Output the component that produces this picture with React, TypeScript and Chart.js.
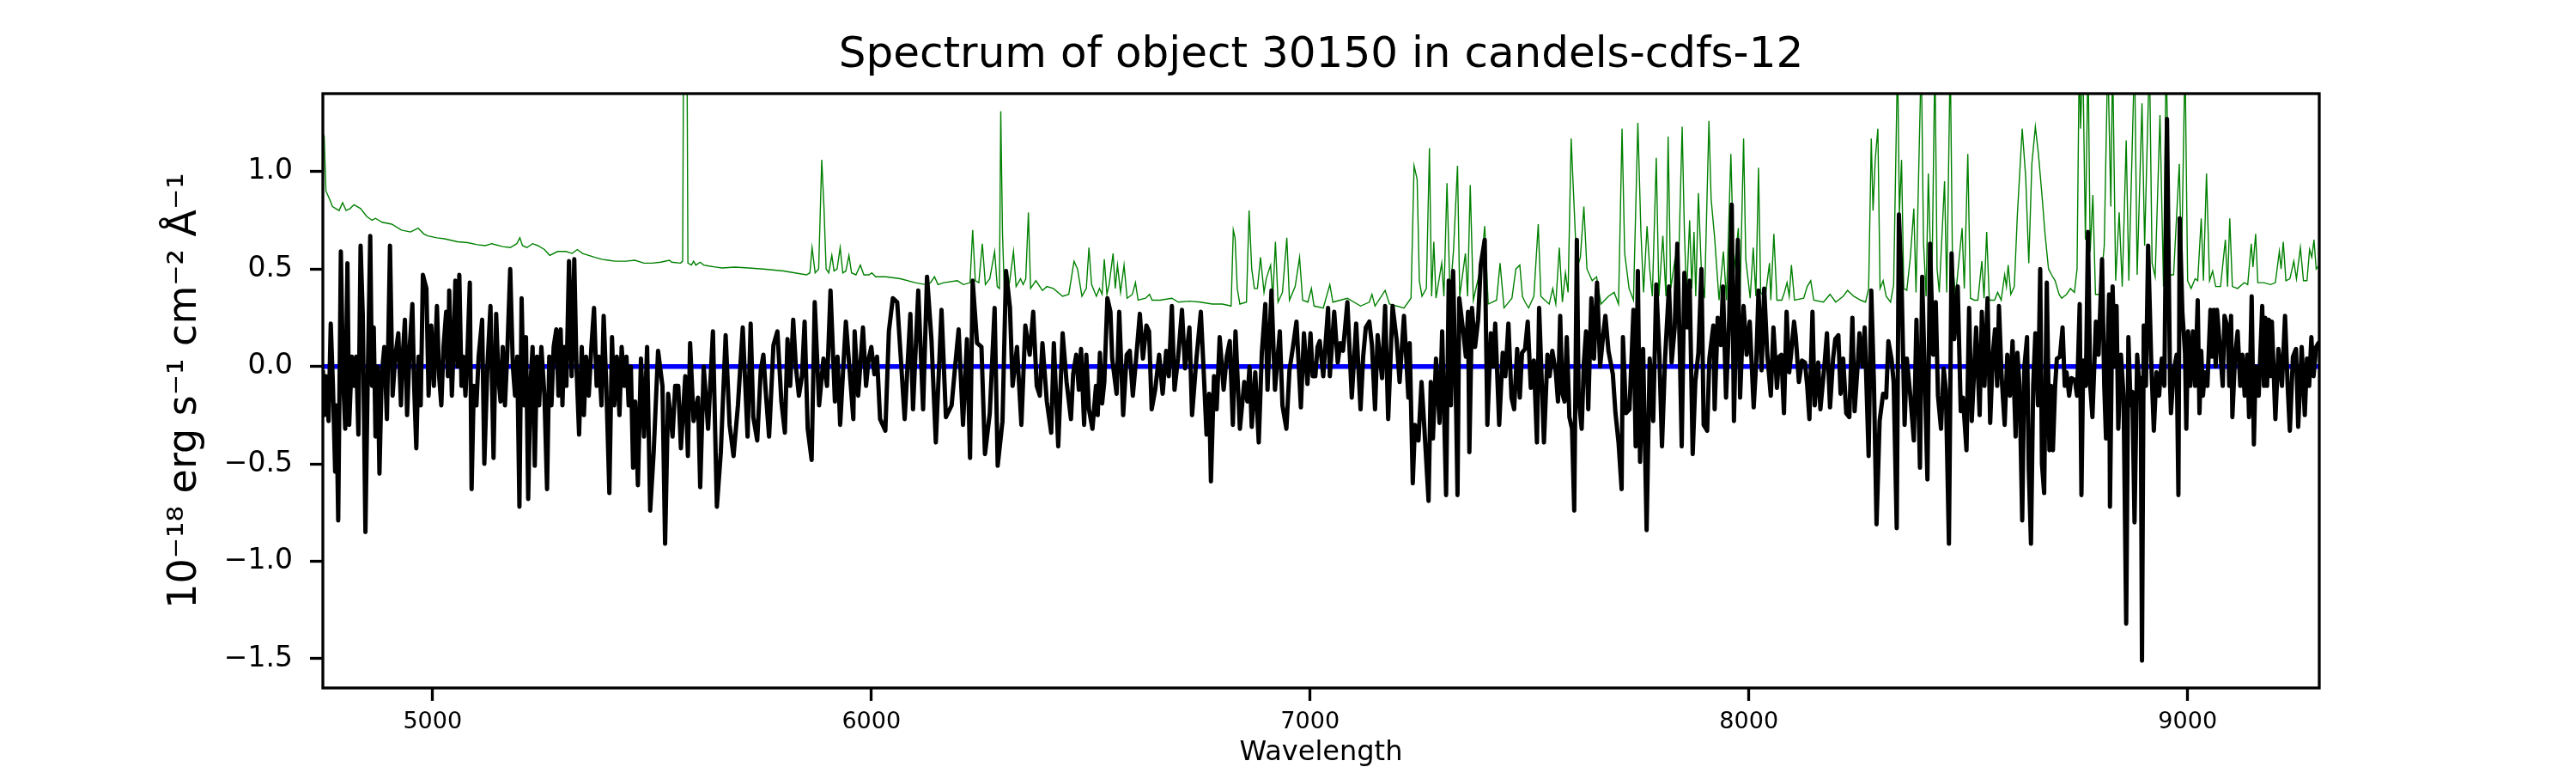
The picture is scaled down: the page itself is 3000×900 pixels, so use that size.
import { useEffect, useRef } from 'react';
import { Chart, registerables } from 'chart.js';

Chart.register(...registerables);

const TITLE = 'Spectrum of object 30150 in candels-cdfs-12';
const X_LABEL = 'Wavelength';
const Y_LABEL = '10⁻¹⁸ erg s⁻¹ cm⁻² Å⁻¹';

const xTicks = [5000, 6000, 7000, 8000, 9000];
const yTicks = [-1.5, -1.0, -0.5, 0.0, 0.5, 1.0];

// object flux as [wavelength, value]
const fluxBlue: [number, number][] = [
  [4750, -0.02], [4753, -0.25], [4757, -0.05], [4763, -0.28], [4768, 0.22], [4773, -0.1],
  [4778, -0.54], [4781, -0.2], [4785, -0.79], [4791, 0.59], [4796, -0.05], [4801, -0.32],
  [4806, 0.53], [4810, -0.3], [4816, 0.05], [4821, -0.1], [4826, 0.05], [4831, -0.35],
  [4836, 0.62], [4841, 0.26], [4847, -0.85], [4852, -0.1], [4858, 0.67], [4862, -0.1],
  [4866, 0.2], [4870, -0.36], [4875, 0.0], [4879, -0.55], [4884, -0.05], [4890, 0.1],
  [4896, -0.27], [4903, 0.62], [4909, -0.15], [4915, 0.05], [4922, 0.17], [4928, -0.2],
  [4932, 0.05], [4937, 0.24], [4942, -0.25], [4948, 0.1], [4954, 0.32], [4958, -0.1],
  [4963, -0.42], [4968, 0.05], [4973, -0.2], [4978, 0.47], [4986, 0.4], [4991, -0.15],
  [4997, 0.21], [5003, -0.1], [5010, 0.31], [5015, -0.05], [5020, -0.2], [5025, 0.1],
  [5031, 0.28], [5035, -0.05], [5038, 0.39], [5044, -0.15], [5048, 0.1], [5052, 0.44],
  [5057, 0.0], [5061, 0.47], [5066, -0.1], [5070, 0.05], [5075, -0.15], [5080, 0.1],
  [5085, 0.43], [5089, -0.63], [5094, -0.1], [5100, -0.2], [5105, 0.05], [5113, 0.24],
  [5118, -0.5], [5125, 0.0], [5132, 0.31], [5139, -0.47], [5145, 0.27], [5150, -0.05],
  [5155, -0.18], [5160, 0.1], [5165, -0.2], [5170, 0.05], [5177, 0.5], [5183, 0.0],
  [5188, -0.15], [5193, 0.05], [5198, -0.72], [5203, 0.35], [5208, -0.2], [5213, 0.15],
  [5218, -0.68], [5223, -0.1], [5228, 0.1], [5233, -0.51], [5238, 0.05], [5243, -0.2],
  [5248, 0.1], [5255, -0.15], [5261, -0.63], [5266, 0.05], [5271, -0.2], [5276, 0.1],
  [5282, 0.19], [5287, -0.15], [5292, 0.19], [5296, -0.2], [5300, 0.1], [5305, -0.1],
  [5311, 0.54], [5317, -0.05], [5323, 0.55], [5328, 0.0], [5334, -0.35], [5340, 0.1],
  [5345, -0.25], [5350, 0.05], [5356, -0.15], [5362, 0.1], [5368, 0.3], [5374, -0.1],
  [5379, 0.05], [5385, -0.2], [5390, 0.26], [5396, -0.1], [5403, -0.65], [5409, 0.15],
  [5414, -0.2], [5420, 0.05], [5426, -0.25], [5431, 0.1], [5437, -0.1], [5442, 0.05],
  [5447, -0.2], [5452, 0.0], [5457, -0.52], [5462, -0.18],
];
const fluxGreen: [number, number][] = [
  [5468, -0.61], [5475, 0.04], [5482, -0.36], [5489, 0.1], [5496, -0.74], [5504, -0.44],
  [5514, 0.08], [5524, -0.1], [5530, -0.91], [5537, -0.14], [5547, -0.36], [5553, -0.1],
  [5560, -0.1], [5566, -0.42], [5576, -0.05], [5582, -0.46], [5587, 0.12], [5595, -0.28],
  [5605, -0.16], [5610, -0.62], [5618, 0.0], [5628, -0.32], [5639, 0.18], [5648, -0.72],
  [5657, -0.44], [5668, 0.16], [5677, -0.3], [5686, -0.46], [5696, -0.2], [5707, 0.2],
  [5718, -0.36], [5725, 0.22], [5731, -0.26], [5740, -0.38], [5748, -0.02], [5754, 0.06],
  [5760, -0.15], [5767, -0.36], [5777, 0.11], [5786, 0.18], [5795, -0.18], [5803, -0.34],
  [5809, 0.14], [5815, -0.1], [5822, 0.24], [5828, 0.0], [5835, -0.15], [5842, -0.05],
  [5848, 0.23], [5855, -0.32], [5864, -0.48], [5871, 0.33], [5881, -0.2], [5891, 0.04],
  [5899, -0.1], [5907, 0.39], [5917, -0.18], [5923, 0.05], [5929, -0.3], [5935, -0.05],
  [5942, 0.23], [5959, -0.27], [5962, 0.18], [5970, -0.15], [5981, 0.2], [5988, -0.1],
  [5994, 0.04], [6000, 0.1], [6007, -0.04], [6013, 0.05], [6020, -0.27], [6032, -0.33],
  [6040, 0.18], [6049, 0.35], [6059, 0.33], [6067, 0.05], [6076, -0.27], [6089, 0.27],
  [6095, -0.22], [6107, 0.39], [6118, -0.22], [6127, 0.46], [6137, 0.14], [6147, -0.39],
  [6160, 0.29], [6170, -0.26], [6183, -0.2], [6191, 0.0], [6199, 0.19], [6209, -0.3],
  [6218, 0.14], [6225, -0.47], [6231, 0.44], [6241, 0.12], [6251, 0.1], [6259, -0.45],
  [6270, -0.24], [6281, 0.3], [6288, -0.51], [6299, -0.28], [6307, 0.49], [6316, 0.3],
  [6322, -0.1], [6332, 0.1], [6342, -0.3], [6351, 0.21], [6361, 0.06], [6369, 0.28],
  [6377, -0.1], [6384, -0.15], [6390, 0.12], [6400, -0.18], [6410, -0.34], [6416, 0.12],
  [6426, -0.41], [6436, 0.17], [6445, -0.08], [6455, -0.27],
];
const fluxOrange: [number, number][] = [
  [6460, -0.04], [6467, 0.06], [6473, -0.12], [6478, 0.09], [6485, -0.3], [6490, 0.06],
  [6496, -0.22], [6504, -0.32], [6512, -0.1], [6516, -0.25], [6521, 0.07], [6526, -0.19],
  [6531, -0.08], [6538, 0.35], [6545, 0.28], [6549, 0.04], [6559, -0.14], [6565, 0.28],
  [6574, -0.25], [6582, 0.06], [6589, 0.08], [6596, -0.15], [6602, 0.0], [6612, 0.27],
  [6619, 0.04], [6627, 0.21], [6633, 0.18], [6639, -0.22], [6647, -0.12], [6656, 0.06],
  [6664, -0.14], [6672, 0.08], [6678, -0.05], [6685, 0.31], [6691, -0.12], [6699, 0.04],
  [6708, 0.29], [6715, -0.01], [6725, 0.2], [6731, -0.25], [6741, 0.04], [6751, 0.28],
  [6758, -0.05], [6764, -0.35], [6770, -0.14], [6774, -0.59], [6781, -0.05], [6787, -0.22],
  [6794, 0.15], [6803, -0.12], [6810, 0.05], [6817, 0.13], [6824, -0.3], [6830, 0.18],
  [6840, -0.32], [6850, -0.08], [6857, -0.18], [6862, 0.0], [6867, -0.31], [6875, -0.03],
  [6883, -0.39], [6890, 0.07], [6898, 0.32], [6903, -0.12], [6912, 0.39], [6920, -0.12],
  [6931, 0.18], [6937, -0.2], [6946, -0.32], [6953, -0.02], [6961, 0.1], [6969, 0.23],
  [6979, -0.21], [6986, 0.17], [6994, -0.09], [7001, 0.17], [7006, -0.05], [7012, -0.05],
  [7017, 0.1], [7022, 0.13], [7030, -0.05], [7041, 0.3], [7045, -0.05], [7055, 0.28],
  [7063, 0.02], [7069, 0.12], [7075, 0.08], [7085, 0.33], [7095, -0.16], [7105, 0.22],
  [7115, -0.22], [7121, 0.05], [7127, 0.2], [7135, 0.23], [7141, 0.11], [7148, -0.22],
  [7154, 0.16], [7164, -0.06], [7171, 0.31], [7178, -0.27], [7188, 0.31], [7197, 0.14],
  [7204, -0.08], [7214, 0.26], [7224, -0.16], [7227, 0.12], [7234, -0.6], [7239, -0.3],
  [7247, -0.38], [7254, -0.08], [7260, -0.3], [7270, -0.69], [7275, -0.08], [7280, -0.37],
  [7287, 0.04], [7295, -0.29], [7301, 0.18], [7310, -0.66], [7316, 0.44], [7321, -0.2],
  [7326, 0.49], [7333, -0.24], [7336, -0.66], [7340, 0.35], [7350, 0.16], [7355, 0.05],
  [7360, 0.28], [7363, -0.44], [7369, 0.3], [7376, 0.1], [7383, 0.24], [7389, 0.52],
  [7398, 0.65], [7404, -0.3], [7412, 0.17], [7417, 0.0], [7422, 0.22], [7431, -0.3],
  [7439, 0.07], [7445, -0.05], [7452, 0.22], [7459, -0.16], [7465, -0.22], [7472, 0.09],
];
const fluxRed: [number, number][] = [
  [7478, -0.16], [7483, 0.07], [7490, 0.09], [7496, 0.23], [7503, -0.11], [7510, 0.03],
  [7517, -0.39], [7522, 0.3], [7528, -0.08], [7533, -0.39], [7541, 0.06], [7546, -0.05],
  [7552, 0.08], [7560, -0.03], [7565, -0.18], [7570, 0.26], [7575, -0.14], [7580, -0.18],
  [7585, 0.15], [7591, -0.26], [7597, -0.32], [7602, -0.74], [7608, 0.65], [7612, -0.16],
  [7619, -0.32], [7624, 0.02], [7629, 0.18], [7634, -0.22], [7641, 0.35], [7647, 0.04],
  [7654, 0.43], [7661, 0.0], [7668, 0.16], [7673, 0.26], [7680, 0.08], [7690, -0.04],
  [7696, -0.24], [7703, -0.39], [7710, -0.63], [7713, 0.15], [7720, -0.24], [7728, -0.22],
  [7737, 0.29], [7742, -0.41], [7747, 0.49], [7752, -0.49], [7759, 0.09], [7767, -0.84],
  [7774, 0.04], [7782, -0.28], [7789, 0.42], [7796, 0.06], [7802, -0.41], [7809, 0.04],
  [7818, 0.41], [7824, 0.02], [7831, 0.2], [7837, 0.63], [7843, 0.04], [7847, -0.41],
  [7853, 0.48], [7860, 0.2], [7865, 0.44], [7872, -0.45], [7878, -0.08], [7885, 0.07],
  [7892, 0.5], [7897, -0.3], [7905, -0.33], [7910, 0.04], [7919, 0.21], [7922, -0.22],
  [7929, 0.25], [7936, 0.11], [7941, 0.41], [7948, -0.16], [7955, 0.24], [7961, 0.83],
  [7966, -0.28], [7975, 0.65], [7980, -0.16], [7988, 0.31], [7995, 0.06], [8002, 0.23],
  [8011, -0.21], [8017, 0.03], [8022, 0.39], [8029, -0.02], [8035, 0.4], [8042, 0.06],
  [8050, -0.15], [8056, 0.2], [8064, -0.11], [8069, 0.05], [8074, 0.06], [8080, -0.24],
  [8086, 0.28], [8092, -0.03], [8097, 0.08], [8103, 0.23], [8107, 0.15], [8114, -0.08],
  [8121, 0.03], [8128, 0.02], [8133, -0.1], [8138, -0.27], [8145, 0.28], [8150, -0.2],
  [8158, 0.02], [8163, -0.22], [8172, 0.0], [8178, 0.17], [8185, -0.21], [8192, 0.04],
  [8197, 0.14], [8204, 0.16], [8209, -0.14], [8215, 0.04], [8222, -0.24], [8229, -0.26],
  [8236, 0.25], [8241, -0.23], [8249, 0.04], [8252, 0.17], [8259, 0.0], [8264, 0.2],
  [8273, -0.46], [8279, 0.39], [8285, -0.08], [8291, -0.81], [8298, -0.28], [8306, -0.14],
  [8313, -0.16], [8318, 0.13], [8325, 0.04], [8330, -0.08], [8337, -0.83], [8342, 0.78],
  [8348, 0.43], [8355, -0.3], [8360, 0.04], [8368, -0.15], [8376, -0.38], [8382, 0.24],
  [8390, -0.52], [8395, 0.46], [8401, -0.06], [8407, -0.58], [8413, 0.63], [8420, 0.06],
  [8426, 0.33], [8431, -0.15], [8438, -0.32], [8444, -0.01], [8449, -0.12], [8456, -0.91],
  [8462, 0.58], [8468, 0.14], [8476, 0.41], [8483, -0.23], [8488, -0.16], [8496, -0.43],
  [8502, 0.3], [8508, -0.28],
];
const fluxFar: [number, number][] = [
  [8518, 0.2], [8526, -0.25], [8531, 0.28], [8537, -0.1], [8544, 0.35], [8550, -0.29],
  [8556, 0.06], [8561, 0.19], [8566, -0.1], [8570, 0.31], [8576, -0.05], [8583, -0.3],
  [8589, 0.06], [8595, -0.15], [8601, 0.13], [8608, -0.36], [8612, 0.07], [8617, -0.1],
  [8623, -0.79], [8628, 0.0], [8634, 0.15], [8638, -0.53], [8643, -0.91], [8648, -0.1],
  [8653, 0.17], [8659, -0.2], [8664, 0.5], [8668, -0.5], [8673, -0.65], [8679, 0.43],
  [8685, -0.43], [8689, -0.1], [8693, -0.43], [8698, -0.1], [8702, 0.04], [8709, 0.05],
  [8715, 0.2], [8720, -0.1], [8724, -0.03], [8730, -0.15], [8735, -0.06], [8743, -0.07],
  [8748, -0.15], [8754, 0.32], [8758, -0.66], [8762, 0.03], [8768, -0.1], [8773, 0.69],
  [8778, -0.1], [8783, -0.26], [8791, 0.23], [8797, 0.06], [8805, 0.55], [8810, -0.1],
  [8814, -0.37], [8818, 0.1], [8821, 0.37], [8823, -0.72], [8829, 0.41], [8834, 0.0],
  [8838, 0.31], [8842, -0.32], [8848, 0.06], [8854, -0.15], [8860, -1.32], [8865, 0.15],
  [8870, -0.2], [8874, -0.13], [8879, -0.8], [8885, 0.06], [8890, -0.1], [8893, -0.06],
  [8896, -1.51], [8900, 0.21], [8905, -0.1], [8910, 0.62], [8917, 0.03], [8923, -0.33],
  [8929, -0.03], [8935, -0.15], [8941, 0.04], [8947, -0.1], [8953, 1.27], [8960, -0.09],
  [8962, -0.24], [8968, -0.03], [8975, 0.06], [8979, -0.66], [8982, 0.76], [8988, 0.28],
  [8994, 0.07], [8997, -0.32], [9001, 0.18], [9006, -0.1], [9012, 0.18], [9017, -0.1],
  [9023, 0.34], [9027, -0.24], [9031, 0.08], [9035, -0.15], [9039, -0.03], [9045, -0.1],
  [9052, 0.29], [9056, 0.05], [9060, 0.29], [9064, 0.0], [9067, 0.29], [9075, 0.06],
  [9080, -0.1], [9084, 0.26], [9091, 0.2], [9095, -0.1], [9099, 0.26], [9102, -0.26],
  [9108, 0.05], [9114, 0.18], [9120, -0.1], [9125, 0.06], [9130, -0.15], [9136, 0.06],
  [9140, -0.26], [9146, 0.36], [9151, -0.4], [9155, 0.0], [9162, -0.15], [9170, 0.31],
  [9174, -0.1], [9177, 0.25], [9181, -0.1], [9185, 0.24], [9189, -0.05], [9192, 0.23],
  [9200, -0.27], [9207, 0.09], [9215, -0.1], [9222, 0.26], [9228, -0.1], [9233, -0.33],
  [9240, 0.05], [9247, 0.09], [9252, -0.31], [9260, 0.1], [9267, -0.25], [9272, 0.04],
  [9277, -0.1], [9282, 0.15], [9287, -0.05], [9293, 0.1], [9298, 0.12], [9300, 0.08],
];

// sky / noise spectrum as [wavelength, value]
const skyBlue: [number, number][] = [
  [4750, 1.2], [4753, 1.18], [4757, 0.9], [4765, 0.86], [4772, 0.82], [4787, 0.8],
  [4795, 0.84], [4803, 0.8], [4812, 0.81], [4821, 0.83], [4836, 0.81], [4850, 0.77],
  [4862, 0.75], [4870, 0.76], [4885, 0.74], [4907, 0.73], [4929, 0.7], [4950, 0.69],
  [4967, 0.71], [4980, 0.68], [4989, 0.67], [5010, 0.66], [5027, 0.655], [5057, 0.64],
  [5080, 0.635], [5102, 0.625], [5120, 0.62], [5135, 0.63], [5160, 0.615], [5177, 0.61],
  [5192, 0.63], [5199, 0.66], [5205, 0.62], [5215, 0.61], [5228, 0.63], [5240, 0.62],
  [5255, 0.6], [5267, 0.57], [5285, 0.59], [5304, 0.59], [5318, 0.58], [5330, 0.6],
  [5342, 0.58], [5356, 0.57], [5370, 0.56], [5386, 0.55], [5400, 0.545], [5416, 0.54],
  [5440, 0.54], [5461, 0.545], [5482, 0.53], [5500, 0.53], [5520, 0.535], [5540, 0.545],
  [5545, 0.535], [5565, 0.53], [5570, 0.54], [5572, 1.6], [5580, 1.6], [5582, 0.53],
  [5590, 0.52], [5595, 0.54], [5600, 0.52], [5610, 0.535], [5618, 0.52], [5630, 0.515],
  [5644, 0.51], [5660, 0.505], [5689, 0.51], [5720, 0.505], [5754, 0.5], [5800, 0.49],
  [5852, 0.47], [5860, 0.48], [5865, 0.61], [5872, 0.48], [5880, 0.5], [5887, 1.06],
  [5892, 0.82], [5897, 0.5], [5903, 0.48], [5910, 0.57], [5915, 0.49], [5922, 0.5],
  [5929, 0.61], [5935, 0.48], [5942, 0.49], [5949, 0.57], [5955, 0.48], [5965, 0.47],
  [5975, 0.52], [5983, 0.47], [5995, 0.47], [6001, 0.48], [6010, 0.46], [6033, 0.46],
  [6066, 0.45], [6100, 0.43], [6124, 0.42], [6135, 0.43], [6144, 0.46], [6152, 0.42],
  [6165, 0.43], [6196, 0.44], [6210, 0.42], [6225, 0.43], [6231, 0.7], [6237, 0.44],
  [6245, 0.43], [6253, 0.63], [6260, 0.42], [6270, 0.45], [6281, 0.59], [6287, 0.41],
  [6292, 0.4], [6295, 1.31], [6299, 0.68], [6303, 0.4], [6315, 0.43], [6324, 0.59],
  [6330, 0.41], [6340, 0.45], [6346, 0.42], [6352, 0.45], [6358, 0.79], [6363, 0.4],
  [6375, 0.44], [6390, 0.39], [6400, 0.41], [6415, 0.4], [6436, 0.36], [6450, 0.37],
];
const skyRed: [number, number][] = [
  [6462, 0.54], [6470, 0.5], [6480, 0.36], [6490, 0.4], [6496, 0.61], [6502, 0.42],
  [6513, 0.36], [6520, 0.4], [6526, 0.37], [6531, 0.55], [6537, 0.37], [6542, 0.42],
  [6551, 0.58], [6556, 0.4], [6561, 0.52], [6568, 0.38], [6576, 0.52], [6583, 0.35],
  [6595, 0.37], [6602, 0.43], [6608, 0.34], [6625, 0.35], [6634, 0.37], [6640, 0.34],
  [6658, 0.34], [6685, 0.35], [6700, 0.33], [6725, 0.335], [6750, 0.33], [6777, 0.32],
  [6800, 0.32], [6820, 0.31], [6825, 0.7], [6829, 0.66], [6834, 0.4], [6840, 0.32],
  [6855, 0.33], [6861, 0.8], [6867, 0.5], [6873, 0.4], [6880, 0.4], [6887, 0.56],
  [6895, 0.38], [6900, 0.45], [6910, 0.52], [6915, 0.35], [6921, 0.64], [6927, 0.33],
  [6937, 0.38], [6947, 0.66], [6953, 0.34], [6966, 0.41], [6976, 0.56], [6983, 0.34],
  [6995, 0.33], [7003, 0.4], [7009, 0.31], [7030, 0.3], [7045, 0.42], [7052, 0.33],
  [7085, 0.35], [7115, 0.31], [7135, 0.33], [7141, 0.37], [7148, 0.31], [7171, 0.39],
  [7181, 0.32], [7214, 0.3], [7230, 0.35], [7237, 1.03], [7244, 0.96], [7249, 0.44],
  [7255, 0.36], [7265, 0.4], [7272, 1.12], [7277, 0.36], [7282, 0.64], [7287, 0.35],
  [7300, 0.53], [7305, 0.36], [7312, 0.94], [7319, 0.36], [7327, 0.6], [7336, 1.03],
  [7341, 0.36], [7354, 0.58], [7359, 0.36], [7365, 0.93], [7372, 0.34], [7390, 0.52],
  [7398, 0.72], [7406, 0.32], [7425, 0.34], [7433, 0.53], [7442, 0.3], [7460, 0.35],
  [7469, 0.5], [7478, 0.52], [7484, 0.36], [7490, 0.33], [7498, 0.3],
];
const skyNearIr: [number, number][] = [
  [7510, 0.36], [7520, 0.73], [7526, 0.36], [7535, 0.34], [7545, 0.32], [7553, 0.4],
  [7560, 0.32], [7568, 0.61], [7575, 0.33], [7582, 0.48], [7588, 0.38], [7595, 1.17],
  [7600, 0.91], [7608, 0.5], [7616, 0.56], [7624, 0.82], [7631, 0.5], [7643, 0.44],
  [7653, 0.46], [7663, 0.32], [7680, 0.36], [7693, 0.38], [7703, 0.32], [7711, 1.22],
  [7717, 0.58], [7727, 0.4], [7737, 0.34], [7747, 1.25], [7754, 0.69], [7760, 0.38],
  [7768, 0.72], [7774, 0.5], [7780, 0.36], [7789, 1.07], [7795, 0.36], [7804, 0.67],
  [7811, 0.36], [7816, 1.18], [7822, 0.4], [7831, 0.54], [7838, 0.36], [7848, 1.23],
  [7853, 0.7], [7858, 0.36], [7865, 0.75], [7870, 0.4], [7875, 0.69], [7879, 0.36],
  [7885, 0.89], [7892, 0.48], [7899, 0.35], [7909, 1.26], [7914, 0.86], [7922, 0.66],
  [7932, 0.34], [7942, 0.59], [7949, 0.34], [7959, 1.09], [7966, 0.48], [7976, 0.71],
  [7980, 0.36], [7988, 1.17], [7993, 0.55], [8003, 0.35], [8010, 0.61], [8016, 0.36],
  [8022, 1.02], [8027, 0.38], [8037, 0.35], [8047, 0.53], [8050, 0.34], [8057, 0.68],
  [8064, 0.34], [8075, 0.34], [8081, 0.38], [8087, 0.43], [8092, 0.36], [8097, 0.52],
  [8104, 0.34], [8125, 0.35], [8133, 0.41], [8141, 0.44], [8148, 0.34], [8170, 0.33],
  [8185, 0.37], [8198, 0.33], [8215, 0.36], [8225, 0.39], [8239, 0.36], [8255, 0.34],
  [8266, 0.33], [8273, 0.4], [8279, 1.17], [8283, 0.8], [8288, 1.06], [8294, 1.22],
  [8299, 0.4], [8306, 0.44], [8313, 0.36], [8323, 0.33], [8330, 0.42], [8339, 1.6],
  [8343, 0.78], [8348, 1.06], [8353, 0.4], [8360, 0.39], [8368, 0.56], [8376, 0.81],
  [8381, 0.38], [8393, 1.6], [8398, 0.64], [8404, 0.36], [8409, 0.99], [8413, 0.66],
  [8417, 0.39], [8424, 1.6], [8429, 0.5], [8434, 0.38], [8446, 0.95], [8451, 0.38],
  [8459, 1.6], [8464, 0.54], [8471, 0.36], [8486, 0.71], [8491, 0.4], [8499, 1.09],
  [8505, 0.35], [8514, 0.34],
];
const skyFar: [number, number][] = [
  [8522, 0.34], [8531, 0.54], [8536, 0.35], [8542, 0.69], [8548, 0.34], [8560, 0.34],
  [8567, 0.38], [8575, 0.34], [8583, 0.47], [8587, 0.41], [8591, 0.52], [8597, 0.37],
  [8605, 0.41], [8612, 0.78], [8623, 1.22], [8631, 0.97], [8638, 0.53], [8645, 1.04],
  [8653, 1.23], [8660, 1.09], [8668, 0.88], [8675, 0.68], [8683, 0.5], [8690, 0.47],
  [8698, 0.44], [8707, 0.37], [8713, 0.35], [8724, 0.37], [8733, 0.4], [8742, 0.38],
  [8748, 0.5], [8753, 1.6], [8756, 1.22], [8761, 1.6], [8767, 0.65], [8773, 1.6],
  [8778, 0.59], [8784, 0.88], [8790, 0.37], [8800, 0.37], [8810, 0.62], [8818, 1.6],
  [8825, 0.82], [8829, 1.6], [8836, 0.44], [8844, 0.79], [8851, 0.41], [8860, 1.16],
  [8866, 0.44], [8879, 1.6], [8885, 0.47], [8896, 1.35], [8902, 0.62], [8913, 1.6],
  [8919, 0.53], [8926, 0.46], [8937, 1.29], [8945, 0.41], [8951, 1.6], [8960, 0.47],
  [8968, 0.47], [8981, 1.04], [8986, 0.5], [8994, 1.6], [9000, 0.44], [9008, 0.4],
  [9017, 0.45], [9023, 0.44], [9031, 0.76], [9036, 0.44], [9043, 0.99], [9050, 0.44],
  [9057, 0.49], [9064, 0.41], [9075, 0.41], [9086, 0.65], [9091, 0.41], [9096, 0.76],
  [9102, 0.41], [9114, 0.4], [9129, 0.43], [9137, 0.42], [9145, 0.63], [9149, 0.51],
  [9155, 0.68], [9160, 0.43], [9174, 0.43], [9189, 0.42], [9200, 0.43], [9209, 0.59],
  [9213, 0.5], [9218, 0.64], [9224, 0.44], [9233, 0.45], [9242, 0.54], [9248, 0.45],
  [9257, 0.61], [9264, 0.44], [9272, 0.44], [9278, 0.6], [9283, 0.56], [9288, 0.65],
  [9293, 0.5], [9300, 0.52],
];

const zeroLevel: [number, number][] = [[4750, 0], [9300, 0]];

const FONT = 'DejaVu Sans';

// axes box drawn over the data, like the spines of the original plot
const framePlugin = {
  id: 'frame',
  afterLayout(chart: any) {
    // centre the title over the axes instead of the whole canvas
    const t = chart.titleBlock;
    if (t) {
      t.left = chart.chartArea.left;
      t.right = chart.chartArea.right;
    }
  },
  afterDatasetsDraw(chart: any) {
    const { ctx, chartArea: a } = chart;
    ctx.save();
    ctx.strokeStyle = '#000';
    ctx.lineWidth = 3.3;
    ctx.strokeRect(a.left, a.top, a.right - a.left, a.bottom - a.top);
    ctx.restore();
  },
};

const toPoints = (pairs: [number, number][]) => pairs.map(([x, y]) => ({ x, y }));

export default function App() {
  const canvasRef = useRef<HTMLCanvasElement | null>(null);
  const chartRef = useRef<Chart | null>(null);

  useEffect(() => {
    document.body.style.margin = '0';
    if (chartRef.current) chartRef.current.destroy();
    const ctx = canvasRef.current?.getContext('2d');
    if (!ctx) return;

    const fluxPoints = toPoints([...fluxBlue, ...fluxGreen, ...fluxOrange, ...fluxRed, ...fluxFar]);
    const skyPoints = toPoints([...skyBlue, ...skyRed, ...skyNearIr, ...skyFar]);

    chartRef.current = new Chart(ctx, {
      type: 'line',
      data: {
        datasets: [
          {
            label: 'flux',
            data: fluxPoints,
            borderColor: '#000000',
            borderWidth: 5,
            pointRadius: 0,
            borderJoinStyle: 'round',
            order: 1,
          },
          {
            label: 'zero',
            data: toPoints(zeroLevel),
            borderColor: '#0000ff',
            borderWidth: 5.5,
            pointRadius: 0,
            order: 2,
          },
          {
            label: 'sky',
            data: skyPoints,
            borderColor: '#008000',
            borderWidth: 1.4,
            pointRadius: 0,
            clip: 0,
            order: 3,
          },
        ],
      },
      options: {
        animation: false,
        responsive: false,
        devicePixelRatio: 1,
        layout: { padding: { left: 188, right: 299, top: 0, bottom: 0 } },
        plugins: {
          legend: { display: false },
          tooltip: { enabled: false },
          title: {
            display: true,
            text: TITLE,
            color: '#000',
            font: { family: FONT, size: 50, weight: 'normal' },
            padding: { top: 35, bottom: 14 },
          },
        },
        scales: {
          x: {
            type: 'linear',
            min: 4750,
            max: 9300,
            afterBuildTicks: (scale: any) => {
              scale.ticks = xTicks.map((value) => ({ value }));
            },
            afterFit: (scale: any) => {
              scale.height = 99;
            },
            ticks: {
              color: '#000',
              font: { family: FONT, size: 27 },
              padding: 9,
              maxRotation: 0,
              autoSkip: false,
              callback: (v: any) => String(v),
            },
            grid: {
              drawOnChartArea: false,
              drawTicks: true,
              tickLength: 15,
              tickWidth: 3.3,
              tickColor: '#000',
            },
            border: { display: false },
            title: {
              display: true,
              text: X_LABEL,
              color: '#000',
              font: { family: FONT, size: 32 },
              padding: { top: 0, bottom: 4 },
            },
          },
          y: {
            type: 'linear',
            min: -1.65,
            max: 1.4,
            afterBuildTicks: (scale: any) => {
              scale.ticks = yTicks.map((value) => ({ value }));
            },
            afterFit: (scale: any) => {
              scale.width = 188;
            },
            ticks: {
              color: '#000',
              font: { family: FONT, size: 33 },
              padding: 20,
              autoSkip: false,
              callback: (v: any) => Number(v).toFixed(1).replace('-', '\u2212'),
            },
            grid: {
              drawOnChartArea: false,
              drawTicks: true,
              tickLength: 15,
              tickWidth: 3.3,
              tickColor: '#000',
            },
            border: { display: false },
            title: {
              display: true,
              text: Y_LABEL,
              color: '#000',
              font: { family: FONT, size: 46 },
              padding: { top: 0, bottom: 0 },
            },
          },
        },
      },
      plugins: [framePlugin],
    });

    return () => {
      if (chartRef.current) {
        chartRef.current.destroy();
        chartRef.current = null;
      }
    };
  }, []);

  return (
    <div style={{ width: 3000, height: 900, background: '#fff' }}>
      <canvas ref={canvasRef} width={3000} height={900} style={{ display: 'block' }} />
    </div>
  );
}
